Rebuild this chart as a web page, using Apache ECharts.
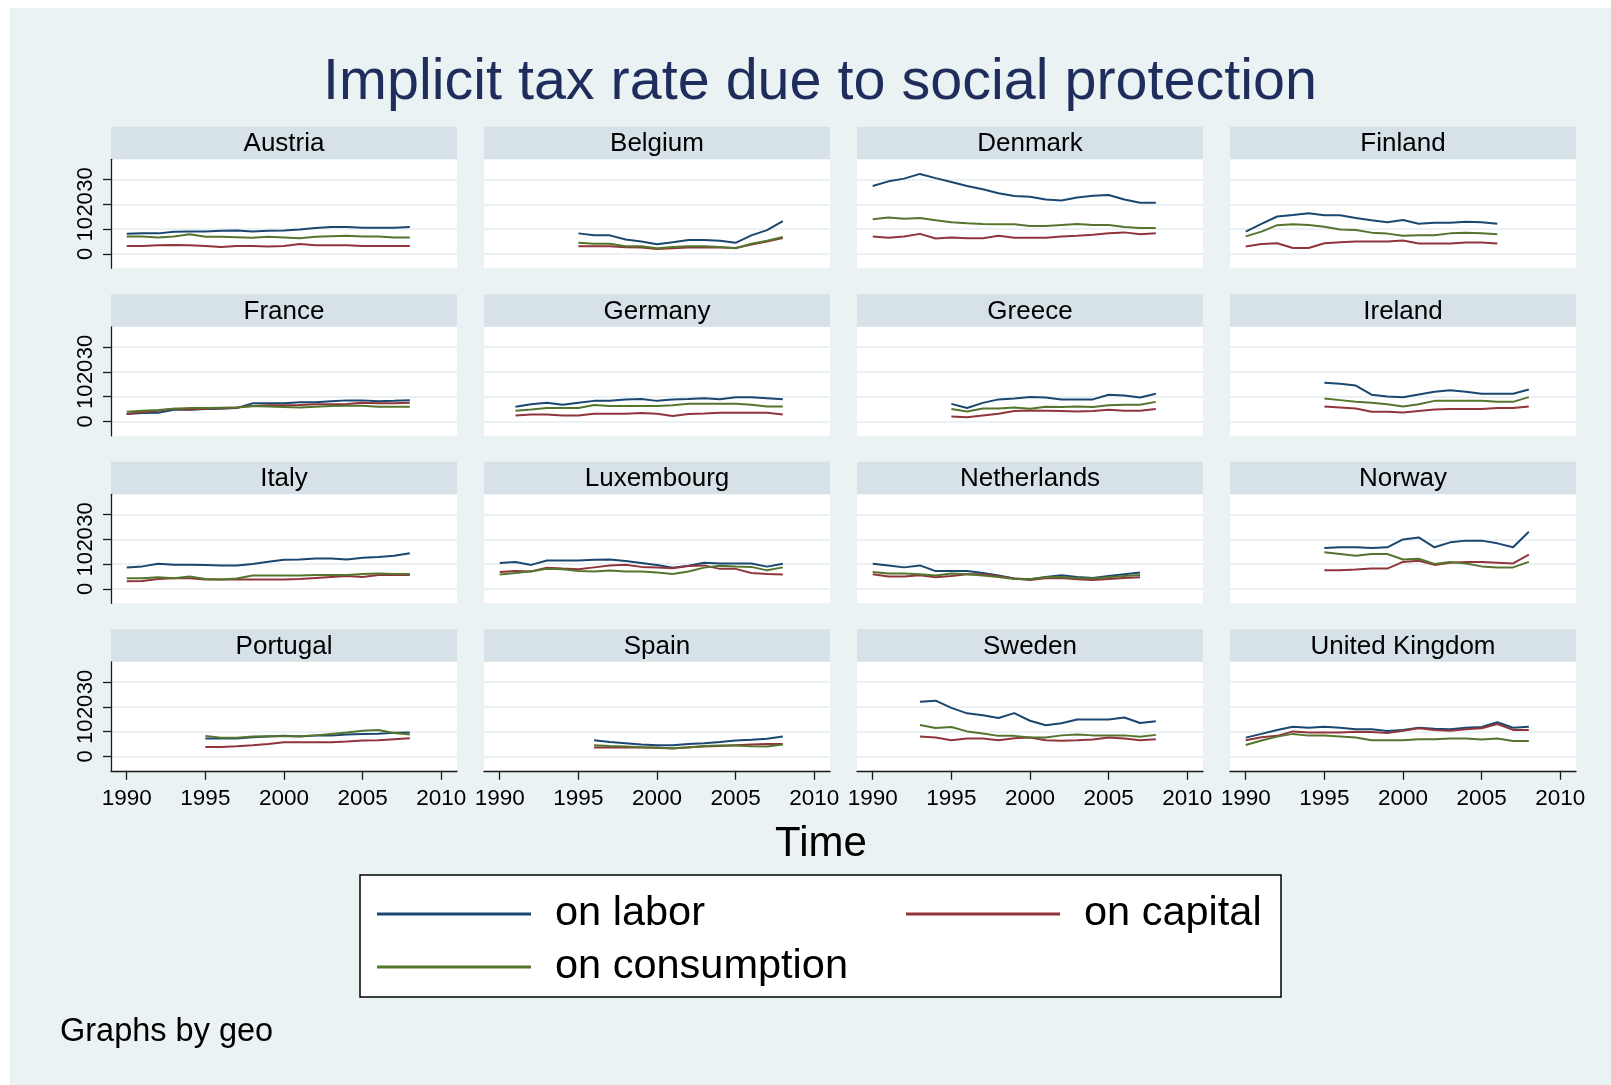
<!DOCTYPE html>
<html>
<head>
<meta charset="utf-8">
<script src="https://cdn.jsdelivr.net/npm/echarts@6/dist/echarts.min.js"></script>
<style>
html,body{margin:0;padding:0;background:#ffffff;}
#chart{width:1611px;height:1085px;}
</style>
</head>
<body>
<div id="chart"></div>
<script>
// ---------------- DATA ----------------
const countries = ['Austria','Belgium','Denmark','Finland','France','Germany','Greece','Ireland',
                   'Italy','Luxembourg','Netherlands','Norway','Portugal','Spain','Sweden','United Kingdom'];
const startYears = [1990,1995,1990,1990,1990,1991,1995,1995,1990,1990,1990,1995,1995,1996,1993,1990];

const laborRates = [
  [8.1,8.3,8.3,9.0,9.1,9.1,9.4,9.5,9.1,9.4,9.5,9.9,10.5,10.9,10.9,10.6,10.6,10.6,10.9],
  [8.3,7.5,7.5,5.8,5.0,3.9,4.7,5.6,5.6,5.3,4.5,7.5,9.6,13.2],
  [27.4,29.3,30.4,32.3,30.6,29.0,27.4,26.1,24.5,23.4,23.1,22.0,21.6,22.8,23.5,23.8,22.0,20.7,20.7],
  [9.0,12.1,15.1,15.7,16.4,15.6,15.6,14.5,13.6,12.8,13.7,12.2,12.6,12.6,13.0,12.8,12.2],
  [3.0,3.4,3.5,4.7,4.7,5.0,5.1,5.4,7.3,7.3,7.3,7.7,7.7,8.1,8.5,8.5,8.1,8.3,8.6],
  [5.9,6.9,7.5,6.7,7.5,8.3,8.3,8.9,9.1,8.3,8.9,9.1,9.4,9.0,9.8,9.8,9.4,9.0],
  [7.1,5.4,7.5,8.9,9.3,9.9,9.7,8.9,8.9,8.9,10.8,10.5,9.7,11.2],
  [15.6,15.2,14.5,10.8,10.1,9.8,10.9,12.0,12.6,12.0,11.2,11.2,11.2,12.9],
  [8.7,9.1,10.2,9.8,9.8,9.7,9.5,9.5,10.1,11.0,11.8,11.9,12.3,12.3,11.9,12.6,12.9,13.4,14.4],
  [10.5,10.9,9.7,11.5,11.5,11.5,11.8,11.9,11.3,10.5,9.7,8.6,9.4,10.6,10.3,10.3,10.3,9.0,10.2],
  [10.2,9.5,8.7,9.5,7.2,7.2,7.2,6.4,5.4,4.2,3.9,4.8,5.5,4.8,4.4,5.2,5.9,6.6],
  [16.5,16.8,16.8,16.5,16.8,20.0,20.8,16.8,18.8,19.5,19.5,18.4,16.8,23.1],
  [7.2,7.2,7.2,7.7,8.0,8.3,8.0,8.4,8.4,8.9,9.1,9.2,9.6,9.7],
  [6.5,5.8,5.3,4.8,4.5,4.5,5.0,5.3,5.8,6.4,6.7,7.1,8.0],
  [22.1,22.5,19.6,17.4,16.6,15.5,17.5,14.4,12.6,13.4,14.9,14.9,14.9,15.7,13.5,14.2],
  [7.6,9.1,10.7,12.0,11.6,12.0,11.6,11.0,11.0,10.3,10.7,11.6,11.2,11.0,11.6,11.9,13.8,11.6,12.0]
];

const capitalRates = [
  [3.2,3.2,3.5,3.6,3.5,3.2,2.8,3.2,3.2,3.0,3.2,4.0,3.5,3.5,3.5,3.2,3.2,3.2,3.2],
  [3.1,3.1,3.1,2.7,2.6,2.0,2.3,2.6,2.6,2.6,2.4,3.8,5.0,6.4],
  [7.0,6.5,7.0,8.1,6.2,6.6,6.3,6.3,7.3,6.5,6.5,6.5,7.0,7.3,7.7,8.3,8.7,7.9,8.3],
  [3.0,4.0,4.3,2.4,2.4,4.3,4.7,5.0,5.0,5.0,5.4,4.2,4.2,4.2,4.6,4.6,4.2],
  [3.0,3.8,4.3,5.1,4.8,5.1,5.4,5.6,6.2,6.5,6.5,6.6,6.9,6.9,7.0,7.5,7.3,7.3,7.5],
  [2.4,2.8,2.8,2.4,2.4,3.1,3.1,3.1,3.4,3.1,2.2,3.0,3.2,3.5,3.5,3.5,3.5,2.8],
  [2.0,1.7,2.4,3.1,4.2,4.4,4.3,4.2,4.0,4.2,4.7,4.3,4.3,5.0],
  [6.0,5.6,5.2,3.9,3.9,3.6,4.2,4.8,5.0,5.0,5.0,5.4,5.4,6.0],
  [3.1,3.2,4.0,4.3,4.3,3.8,3.8,3.8,3.8,3.8,3.8,4.0,4.4,4.8,5.2,4.8,5.6,5.6,5.6],
  [6.8,7.2,7.0,8.6,8.2,7.9,8.7,9.5,9.8,8.9,8.7,8.3,9.3,9.5,8.1,8.1,6.4,6.0,5.8],
  [5.9,5.0,5.0,5.5,4.7,5.2,5.9,5.9,5.1,4.2,3.6,4.3,4.4,3.9,3.6,4.0,4.4,4.7],
  [7.5,7.5,7.8,8.2,8.2,10.9,11.4,9.7,10.6,10.9,10.9,10.6,10.3,13.8],
  [3.8,3.8,4.1,4.5,5.0,5.7,5.7,5.7,5.7,6.0,6.4,6.5,6.9,7.3],
  [3.6,3.6,3.6,3.6,3.6,3.2,3.7,4.0,4.2,4.5,4.8,5.0,5.0],
  [8.0,7.6,6.5,7.2,7.2,6.5,7.3,7.6,6.5,6.3,6.5,6.8,7.6,7.2,6.5,6.9],
  [6.5,7.7,8.3,10.1,9.7,9.7,9.7,10.0,9.9,9.5,10.4,11.4,10.7,10.4,11.0,11.4,13.1,10.7,10.7]
];

const consumptionRates = [
  [7.0,7.0,6.6,7.0,7.9,6.9,6.9,6.7,6.5,6.9,6.6,6.3,6.9,7.1,7.3,7.0,7.0,6.6,6.6],
  [4.5,4.1,4.1,3.1,3.1,2.3,2.8,3.1,3.1,2.8,2.3,4.1,5.3,6.8],
  [14.0,14.7,14.2,14.5,13.6,12.8,12.4,12.1,12.0,12.0,11.3,11.3,11.7,12.1,11.7,11.7,10.9,10.5,10.5],
  [7.1,9.0,11.6,12.0,11.7,11.0,9.9,9.7,8.6,8.2,7.3,7.5,7.5,8.3,8.6,8.3,7.9],
  [3.9,4.3,4.6,5.1,5.4,5.4,5.5,5.6,6.2,6.0,5.8,5.6,5.9,6.2,6.3,6.3,5.9,5.9,5.9],
  [4.3,4.8,5.4,5.4,5.4,6.6,6.2,6.2,6.2,6.2,6.5,7.1,7.1,7.1,7.1,6.7,6.0,6.0],
  [5.0,4.0,5.2,5.2,5.6,5.1,5.9,5.8,6.0,5.8,6.5,6.7,6.7,7.9],
  [9.3,8.6,7.9,7.5,6.9,6.0,6.9,8.3,8.3,8.3,8.3,7.9,7.9,9.8],
  [4.3,4.3,4.7,4.3,5.0,4.0,3.8,4.2,5.4,5.4,5.4,5.4,5.6,5.6,5.6,6.0,6.2,6.0,6.0],
  [5.8,6.4,7.1,8.1,7.9,7.2,7.0,7.4,7.0,7.0,6.6,6.0,7.0,8.6,9.4,9.1,8.9,7.5,8.7],
  [6.8,6.2,6.2,5.9,5.4,6.2,5.9,5.4,4.8,4.0,3.9,4.7,4.8,4.4,4.2,4.7,5.2,5.6],
  [14.8,14.1,13.4,14.1,14.1,11.9,12.2,10.1,10.9,10.3,9.1,8.7,8.7,10.9],
  [8.3,7.5,7.5,8.0,8.1,8.1,8.1,8.5,9.1,9.7,10.4,10.7,9.5,8.9],
  [4.5,4.2,4.0,3.7,3.4,3.3,3.6,4.2,4.4,4.4,4.1,4.0,4.8],
  [12.7,11.5,11.9,10.1,9.3,8.3,8.3,7.6,7.6,8.5,8.9,8.5,8.5,8.5,7.9,8.7],
  [4.6,6.4,8.0,9.1,8.4,8.4,8.0,7.6,6.5,6.5,6.5,6.9,6.9,7.2,7.2,6.8,7.2,6.2,6.2]
];

const seriesNames = ['on labor','on capital','on consumption'];
const xTickYears = [1990,1995,2000,2005,2010];
const yTickValues = [0,10,20,30];

// ---------------- CHART ----------------
const FONT = "'Liberation Sans', Arial, Helvetica, sans-serif";
const COLORS = ['#1A476F','#90353B','#55752F'];
const rateSets = [laborRates, capitalRates, consumptionRates];
const AXIS_COLOR = '#1a1a1a';

const grids = [], xAxes = [], yAxes = [], series = [];
const graphics = [
  {type:'rect', silent:true, shape:{x:0,y:0,width:10,height:1085}, style:{fill:'#ffffff'}},
  {type:'rect', silent:true, shape:{x:0,y:0,width:1611,height:8}, style:{fill:'#ffffff'}},
  {type:'text', silent:true, x:820, y:83,
   style:{text:'Implicit tax rate due to social protection', fontSize:57.5, fontFamily:FONT,
          fill:'#1E2D5C', align:'center', verticalAlign:'middle'}},
  {type:'text', silent:true, x:821, y:844,
   style:{text:'Time', fontSize:42, fontFamily:FONT, fill:'#000', align:'center', verticalAlign:'middle'}},
  {type:'text', silent:true, x:60, y:1032,
   style:{text:'Graphs by geo', fontSize:32.5, fontFamily:FONT, fill:'#000', align:'left', verticalAlign:'middle'}},
  {type:'rect', silent:true, shape:{x:360,y:875,width:921,height:122},
   style:{fill:'#ffffff', stroke:'#000000', lineWidth:1.5}}
];

countries.forEach((name, i) => {
  const r = Math.floor(i / 4), c = i % 4;
  const left = 111 + 373 * c;
  const top = 159.3 + 167.5 * r;
  const width = 346, height = 109;
  grids.push({left, top, width, height, show:true, backgroundColor:'#ffffff', borderWidth:0,
              containLabel:false, outerBoundsMode:'none'});
  // header strip
  graphics.push({type:'rect', silent:true, shape:{x:left, y:126.7 + 167.5 * r, width, height:32.6},
                 style:{fill:'#D6E2E7'}});
  graphics.push({type:'text', silent:true, x:left + width / 2, y:144 + 167.5 * r,
                 style:{text:name, fontSize:26, fontFamily:FONT, fill:'#000',
                        align:'center', verticalAlign:'middle'}});
  const bottomRow = (r === 3);
  xAxes.push({
    type:'value', gridIndex:i, min:1989, max:2011,
    axisLine:{show:bottomRow, onZero:false, lineStyle:{color:AXIS_COLOR, width:1.3}},
    axisTick:{show:bottomRow, length:9, customValues:xTickYears, lineStyle:{color:AXIS_COLOR, width:1.3}},
    axisLabel:{show:bottomRow, customValues:xTickYears, margin:16, fontSize:22.5, color:'#000',
               fontFamily:FONT, hideOverlap:false, formatter:(v) => String(v)},
    splitLine:{show:false}
  });
  const firstCol = (c === 0);
  yAxes.push({
    type:'value', gridIndex:i, min:-5.8, max:38.2,
    axisLine:{show:firstCol, onZero:false, lineStyle:{color:AXIS_COLOR, width:1.3}},
    axisTick:{show:firstCol, length:8, customValues:yTickValues, lineStyle:{color:AXIS_COLOR, width:1.3}},
    axisLabel:{show:firstCol, customValues:yTickValues, rotate:90, margin:14, fontSize:22, color:'#000',
               fontFamily:FONT, hideOverlap:false, formatter:(v) => String(v)},
    splitLine:{show:true, customValues:yTickValues, lineStyle:{color:'#E6EEF1', width:1.6}}
  });
  rateSets.forEach((set, s) => {
    series.push({
      type:'line', name:seriesNames[s], xAxisIndex:i, yAxisIndex:i,
      data:set[i].map((v, k) => [startYears[i] + k, v]),
      showSymbol:false, symbol:'none', silent:true,
      lineStyle:{width:2, color:COLORS[s]}, itemStyle:{color:COLORS[s]},
      emphasis:{disabled:true}
    });
  });
});

const legendCommon = {
  orient:'horizontal', padding:0, itemWidth:154, itemHeight:3, icon:'rect',
  selectedMode:false, backgroundColor:'transparent', borderWidth:0,
  textStyle:{fontSize:41.5, color:'#000', fontFamily:FONT, padding:[0,0,0,19]}
};

const option = {
  backgroundColor:'#EAF2F3',
  animation:false,
  textStyle:{fontFamily:FONT},
  grid:grids, xAxis:xAxes, yAxis:yAxes, series:series,
  legend:[
    Object.assign({data:['on labor'], left:377, top:893}, legendCommon),
    Object.assign({data:['on capital'], left:906, top:893}, legendCommon),
    Object.assign({data:['on consumption'], left:377, top:946}, legendCommon)
  ],
  graphic:graphics
};

const chart = echarts.init(document.getElementById('chart'), null, {renderer:'canvas'});
chart.setOption(option);
</script>
</body>
</html>
